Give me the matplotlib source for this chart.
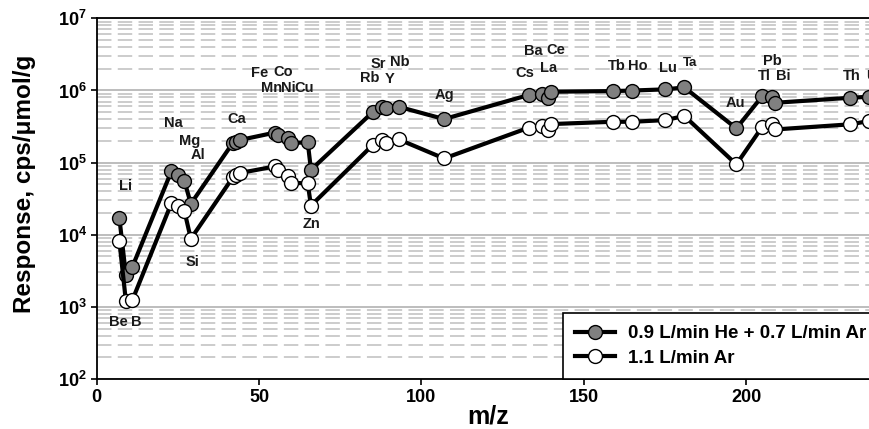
import math
import matplotlib
matplotlib.use("Agg")
import matplotlib.pyplot as plt
from matplotlib.ticker import LogLocator, FixedLocator, FuncFormatter, NullFormatter

plt.rcParams['font.family'] = ['Liberation Sans', 'DejaVu Sans']
plt.rcParams['font.weight'] = 'bold'
plt.rcParams['mathtext.fontset'] = 'custom'
plt.rcParams['mathtext.rm'] = 'Liberation Sans:bold'
plt.rcParams['mathtext.bf'] = 'Liberation Sans:bold'

# ---- data ----
elements = ['Li', 'Be', 'B', 'Na', 'Mg', 'Al', 'Si', 'Ca', 'Ca', 'Ca', 'Mn', 'Fe', 'Co', 'Ni',
            'Cu', 'Zn', 'Rb', 'Sr', 'Y', 'Nb', 'Ag', 'Cs', 'Ba', 'La', 'Ce', 'Tb', 'Ho', 'Lu',
            'Ta', 'Au', 'Tl', 'Pb', 'Bi', 'Th', 'U']
mz = [7, 9, 11, 23, 25, 27, 29, 42, 43, 44, 55, 56, 59, 60,
      65, 66, 85, 88, 89, 93, 107, 133, 137, 139, 140, 159, 165, 175,
      181, 197, 205, 208, 209, 232, 238]
he_ar = [1.70e4, 2.75e3, 3.59e3, 7.55e4, 6.64e4, 5.62e4, 2.68e4, 1.89e5, 1.95e5, 2.05e5,
         2.61e5, 2.40e5, 2.21e5, 1.86e5, 1.92e5, 7.94e4, 5.0e5, 5.94e5, 5.65e5, 5.94e5,
         4.01e5, 8.63e5, 8.83e5, 7.92e5, 9.6e5, 9.8e5, 9.97e5, 1.035e6, 1.10e6, 2.98e5,
         8.36e5, 8.02e5, 6.75e5, 7.92e5, 8.18e5]
ar_only = [8.15e3, 1.20e3, 1.24e3, 2.72e4, 2.49e4, 2.16e4, 8.77e3, 6.29e4, 6.71e4, 7.15e4,
           8.86e4, 8.0e4, 6.5e4, 5.25e4, 5.14e4, 2.53e4, 1.75e5, 2.05e5, 1.88e5, 2.1e5,
           1.14e5, 3.04e5, 3.21e5, 2.82e5, 3.42e5, 3.68e5, 3.68e5, 3.88e5, 4.42e5, 9.44e4,
           3.14e5, 3.42e5, 2.88e5, 3.39e5, 3.77e5]
series_labels = ['0.9 L/min He + 0.7 L/min Ar', '1.1 L/min Ar']
x_ticks = [0, 50, 100, 150, 200]
y_decades = [2, 3, 4, 5, 6, 7]

# element label annotations (text, x, y)
label_text = ['Li', 'Be', 'B', 'Na', 'Mg', 'Al', 'Si', 'Ca', 'Fe', 'Co', 'Mn', 'Ni', 'Cu', 'Zn',
              'Rb', 'Sr', 'Nb', 'Y', 'Ag', 'Cs', 'Ba', 'Ce', 'La', 'Tb', 'Ho', 'Lu', 'Ta',
              'Au', 'Pb', 'Tl', 'Bi', 'Th', 'U']
label_x = [8.8, 6.65, 12.3, 23.6, 28.5, 31.3, 29.6, 43.1, 50.1, 57.5, 53.9, 59.0, 63.9, 66.2,
           84.0, 86.7, 93.4, 90.3, 107.0, 131.9, 134.5, 141.5, 139.1, 160.1, 166.5, 176.0, 182.7,
           196.6, 208.2, 205.5, 211.3, 232.5, 238.7]
label_y = [4.72e4, 620, 620, 3.56e5, 2.0e5, 1.27e5, 4.2e3, 3.97e5, 1.76e6, 1.82e6, 1.09e6, 1.07e6,
           1.09e6, 1.4e4, 1.47e6, 2.32e6, 2.5e6, 1.43e6, 8.6e5, 1.73e6, 3.52e6, 3.63e6, 2.07e6,
           2.18e6, 2.18e6, 2.03e6, 2.38e6, 6.6e5, 2.56e6, 1.58e6, 1.58e6, 1.58e6, 1.58e6]

# ---- figure ----
fig = plt.figure(figsize=(8.7, 4.29), dpi=100)
ax = fig.add_axes([0.1111, 0.1166, 0.9331, 0.8407])

ax.set_yscale('log')
ax.set_xlim(0, 250)
ax.set_ylim(1e2, 1e7)

# grid
ax.yaxis.set_major_locator(FixedLocator([10.0 ** d for d in y_decades]))
ax.yaxis.set_minor_locator(LogLocator(base=10, subs=[2, 3, 4, 5, 6, 7, 8, 9]))
ax.yaxis.set_minor_formatter(NullFormatter())
ax.yaxis.set_major_formatter(FuncFormatter(lambda v, p: r'$\mathbf{10^{%d}}$' % round(math.log10(v))))
ax.grid(True, which='major', axis='y', color='#bdbdbd', lw=1.4, ls='-', zorder=0)
ax.grid(True, which='minor', axis='y', color='#c8c8c8', lw=1.3, ls=(0, (8, 3.5)), zorder=0)
ax.set_axisbelow(True)

ax.set_xticks(x_ticks)
ax.tick_params(axis='both', which='major', direction='out', length=4, width=1.2,
               labelsize=13, pad=3)
ax.tick_params(axis='y', which='minor', length=0)
for lab in ax.get_xticklabels() + ax.get_yticklabels():
    lab.set_fontweight('bold')

for sp in ax.spines.values():
    sp.set_linewidth(1.3)
    sp.set_color('black')

ms = 10
ax.plot(mz, he_ar, '-o', color='black', lw=3.0, marker='o', ms=ms,
        mfc='#808080', mec='black', mew=1.0, label=series_labels[0], zorder=3)
ax.plot(mz, ar_only, '-o', color='black', lw=3.0, marker='o', ms=ms,
        mfc='white', mec='black', mew=1.0, label=series_labels[1], zorder=3)

for t, x, y in zip(label_text, label_x, label_y):
    ax.text(x, y, t, ha='center', va='center', fontsize=9.5 if t == 'Ta' else 10.5,
            fontweight='bold', color='#1a1a1a', zorder=4)

ax.set_xlabel('m/z', fontsize=18, fontweight='bold', labelpad=1)
ax.xaxis.set_label_coords(0.482, -0.072)
ax.set_ylabel('Response, cps/\u03bcmol/g', fontsize=17.5, fontweight='bold')
ax.yaxis.set_label_coords(-0.075, 0.54)

leg = ax.legend(loc='lower left', bbox_to_anchor=(0.5744, 0.0), borderaxespad=0,
                fontsize=13.5, frameon=True, fancybox=False, framealpha=1,
                edgecolor='black', handlelength=2.1, handletextpad=0.7,
                borderpad=0.65, labelspacing=0.4)
leg.get_frame().set_linewidth(1.2)
for txt in leg.get_texts():
    txt.set_fontweight('bold')

fig.savefig('out.png', dpi=100)
